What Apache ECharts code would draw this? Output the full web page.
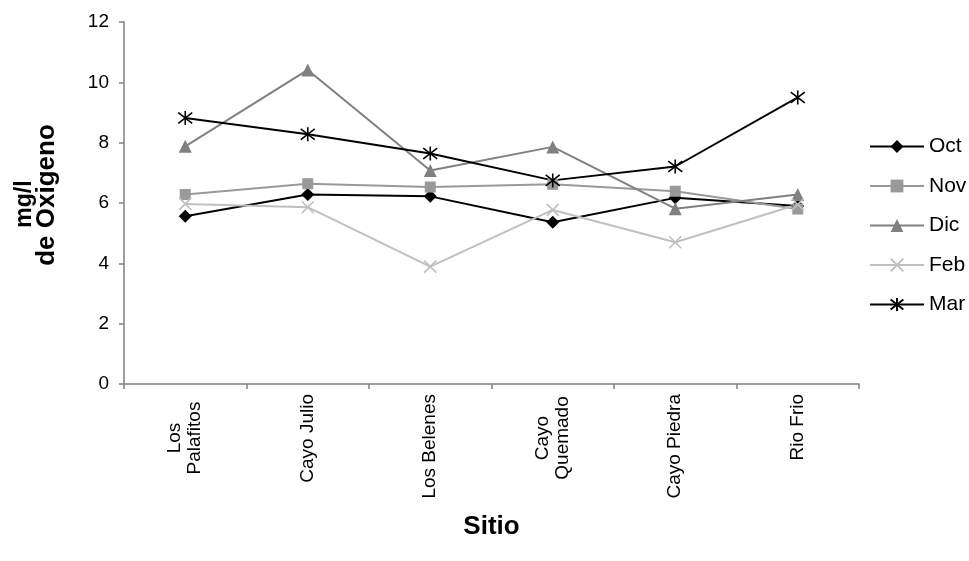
<!DOCTYPE html>
<html>
<head>
<meta charset="utf-8">
<script src="https://cdn.jsdelivr.net/npm/echarts@6/dist/echarts.min.js"></script>
<style>
  html, body { margin: 0; padding: 0; background: #fff; }
  #chart { width: 969px; height: 561px; }
</style>
</head>
<body>
<div id="chart"></div>
<script>
// Sampling sites along the x axis
const sites = ['Los\nPalafitos', 'Cayo Julio', 'Los Belenes', 'Cayo\nQuemado', 'Cayo Piedra', 'Rio Frio'];

// Dissolved oxygen (mg/l) per month
const oct = [5.56, 6.28, 6.22, 5.36, 6.17, 5.90];
const nov = [6.28, 6.64, 6.53, 6.62, 6.39, 5.80];
const dic = [7.88, 10.41, 7.08, 7.86, 5.81, 6.28];
const feb = [5.97, 5.86, 3.89, 5.77, 4.70, 5.95];
const mar = [8.82, 8.28, 7.64, 6.75, 7.21, 9.50];

const yTicks = { min: 0, max: 12, interval: 2 };

const FONT = 'Liberation Sans, Arial, sans-serif';
const CROSS = 'path://M0,0L10,10M10,0L0,10';
const STAR = 'path://M0,0L10,10M10,0L0,10M5,-1.5L5,11.5';

function makeSeries(name, data, color, symbol, size, strokeOnly) {
  return {
    name: name,
    type: 'line',
    data: data,
    symbol: symbol,
    symbolSize: size,
    showAllSymbol: true,
    lineStyle: { color: color, width: 2 },
    itemStyle: strokeOnly
      ? { color: 'rgba(0,0,0,0)', borderColor: color, borderWidth: 1.6 }
      : { color: color, borderWidth: 0 },
    emphasis: { disabled: true },
    animation: false
  };
}

// Wrapped site names are laid out as a fixed-width block with centred lines
function siteLabel(v) {
  if (v.indexOf('\n') < 0) return v;
  return v.split('\n').map(function (s) { return '{w|' + s + '}'; }).join('\n');
}

const chart = echarts.init(document.getElementById('chart'), null, { renderer: 'canvas' });
chart.setOption({
  backgroundColor: '#ffffff',
  animation: false,
  textStyle: { fontFamily: FONT },
  grid: { left: 124, right: 110, top: 22, bottom: 177, containLabel: false },
  legend: {
    orient: 'vertical',
    left: 864,
    top: 131,
    itemWidth: 54,
    itemHeight: 16,
    itemGap: 18.5,
    textStyle: { fontFamily: FONT, fontSize: 21, color: '#000', lineHeight: 16 },
    data: ['Oct', 'Nov', 'Dic', 'Feb', 'Mar']
  },
  xAxis: {
    type: 'category',
    data: sites,
    boundaryGap: true,
    name: 'Sitio',
    nameLocation: 'middle',
    nameGap: 130,
    nameTextStyle: { fontFamily: FONT, fontSize: 26, fontWeight: 'bold', color: '#000' },
    axisLine: { lineStyle: { color: '#808080', width: 1.5 } },
    axisTick: { show: true, length: 5, alignWithLabel: false, lineStyle: { color: '#808080', width: 1.5 } },
    axisLabel: {
      rotate: 90, interval: 0, margin: 10, fontFamily: FONT, fontSize: 19, color: '#000', lineHeight: 20,
      formatter: siteLabel,
      rich: { w: { width: 88, align: 'center', fontFamily: FONT, fontSize: 19, color: '#000', lineHeight: 20 } }
    },
    splitLine: { show: false }
  },
  yAxis: {
    type: 'value',
    min: yTicks.min,
    max: yTicks.max,
    interval: yTicks.interval,
    axisLine: { show: true, lineStyle: { color: '#808080', width: 1.5 } },
    axisTick: { show: true, length: 5, lineStyle: { color: '#808080', width: 1.5 } },
    axisLabel: { margin: 15, fontFamily: FONT, fontSize: 19, color: '#000' },
    splitLine: { show: false }
  },
  // Two-line y axis title, read bottom to top
  graphic: [
    {
      type: 'text', x: 25, y: 204, rotation: Math.PI / 2,
      style: { text: 'mg/l', fill: '#000', font: 'bold 23px ' + FONT, align: 'center', verticalAlign: 'middle' }
    },
    {
      type: 'text', x: 47, y: 195, rotation: Math.PI / 2,
      style: { text: 'de Oxigeno', fill: '#000', font: 'bold 26px ' + FONT, align: 'center', verticalAlign: 'middle' }
    }
  ],
  series: [
    makeSeries('Oct', oct, '#000000', 'diamond', 13, false),
    makeSeries('Nov', nov, '#999999', 'rect', 11, false),
    makeSeries('Dic', dic, '#808080', 'triangle', 13, false),
    makeSeries('Feb', feb, '#c0c0c0', CROSS, 12, true),
    makeSeries('Mar', mar, '#000000', STAR, 14, true)
  ]
});
</script>
</body>
</html>
